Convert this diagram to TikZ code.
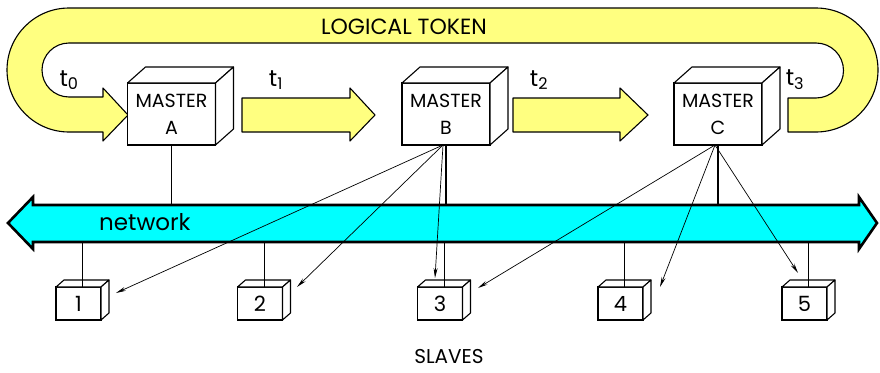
\documentclass[tikz,border=0pt]{standalone}
\usepackage{fontspec}
\setmainfont{Poppins}
\usetikzlibrary{arrows.meta,calc}
\definecolor{tokyel}{HTML}{FFFF80}
\definecolor{netcyan}{HTML}{00FFFF}
\newcommand\drawcube[3]{%
  \draw[cubeface] (#1.north west) -- ++(#2,-#3) -- ([shift={(#2,-#3)}]#1.north east) -- (#1.north east) -- cycle;
  \draw[cubeface] (#1.north east) -- ([shift={(#2,-#3)}]#1.north east) -- ([shift={(#2,-#3)}]#1.south east) -- (#1.south east) -- cycle;}
\tikzset{
  tokenband/.style={draw=black, line width=1.1pt, fill=tokyel, line join=round},
  netband/.style={draw=black, line width=2.6pt, fill=netcyan, line join=miter},
  master/.style={draw=black, fill=white, line width=1.2pt, minimum width=88pt, minimum height=62pt, inner sep=0pt, outer sep=0pt, align=center, font=\fontsize{19}{27}\selectfont},
  slave/.style={draw=black, fill=white, line width=1.1pt, minimum width=45pt, minimum height=33pt, inner sep=0pt, outer sep=0pt, font=\fontsize{21}{22}\selectfont},
  cubeface/.style={draw=black, fill=white, line width=1.1pt, line join=round},
  stem/.style={draw=black, line width=1.1pt},
  thinstem/.style={draw=black, line width=0.8pt},
  msg/.style={draw=black, line width=0.7pt, -{Stealth[length=10pt,width=4pt]}},
  tlabel/.style={font=\fontsize{23}{24}\selectfont, inner sep=0pt},
  biglabel/.style={font=\fontsize{22}{24}\selectfont, inner sep=0pt}
}
\begin{document}
\begin{tikzpicture}[x=1pt,y=-1pt]
\useasboundingbox (0,0) rectangle (880,372);
% logical token loop
\draw[tokenband] (103,132) -- (69,132) arc[start angle=90, end angle=270, radius=62] -- (816,8)
  arc[start angle=-90, end angle=90, radius=62] -- (788,132) -- (788,98) -- (816,98)
  arc[start angle=90, end angle=-90, radius=27.5] -- (69,43)
  arc[start angle=-90, end angle=-270, radius=27] -- (103,97) -- (103,88) -- (128,115) -- (103,141) -- cycle;
\node[biglabel] (lt) at (404,27) {LOGICAL TOKEN};
% token arrows
\draw[tokenband] (242,98) -- (350,98) -- (350,88) -- (375,115) -- (350,141) -- (350,132) -- (242,132) -- cycle;
\draw[tokenband] (513,98) -- (620,98) -- (620,88) -- (648,115) -- (620,141) -- (620,132) -- (513,132) -- cycle;
% network
\draw[netband] (8,223) -- (33,197) -- (33,205) -- (859,205) -- (859,197) -- (877,223) -- (859,249) -- (859,242) -- (33,242) -- (33,249) -- cycle;
\node[font=\fontsize{23}{24}\selectfont, inner sep=0pt, anchor=west] (net) at (99,222) {network};
\coordinate (netT) at (0,205);
\coordinate (netB) at (0,242);
% masters
\node[master] (mA) at (171.5,114) {MASTER\\A};
\node[master] (mB) at (446,114) {MASTER\\B};
\node[master] (mC) at (718,114) {MASTER\\C};
\draw[stem] (mA.south) -- (mA.south |- netT);
\draw[stem] (mB.south) -- (mB.south |- netT);
\draw[stem] (mC.south) -- (mC.south |- netT);
\drawcube{mA}{18}{16}
\drawcube{mB}{18}{16}
\drawcube{mC}{18}{16}
\node[tlabel] (t0) at (69,80) {t\textsubscript{0}};
\node[tlabel] (t1) at (276,80) {t\textsubscript{1}};
\node[tlabel] (t2) at (539,80) {t\textsubscript{2}};
\node[tlabel] (t3) at (795,80) {t\textsubscript{3}};
% slaves
\node[slave] (s1) at (78.5,303.5) {1};
\node[slave] (s2) at (260,303.5) {2};
\node[slave] (s3) at (440,303.5) {3};
\node[slave] (s4) at (620.5,303.5) {4};
\node[slave] (s5) at (804.5,303.5) {5};
\foreach \s in {s1,s2,s3,s4,s5}{
  \drawcube{\s}{8}{7}
  \draw[thinstem] ([xshift=4pt]\s.north) -- ([xshift=4pt]\s.north |- netB);
}
\node[font=\fontsize{20}{22}\selectfont, inner sep=0pt] (sl) at (449,357) {SLAVES};
% messages
\coordinate (e1) at (116,293);
\coordinate (e2) at (297,287);
\coordinate (e3) at (435,278);
\coordinate (e4) at (478,288);
\coordinate (e5) at (660,287);
\coordinate (e6) at (798,273);
\draw[msg] ([xshift=-3pt]mB.south) -- (e1);
\draw[msg] ([xshift=-3pt]mB.south) -- (e2);
\draw[msg] ([xshift=-3pt]mB.south) -- (e3);
\draw[msg] ([xshift=-3pt]mC.south) -- (e4);
\draw[msg] ([xshift=-3pt]mC.south) -- (e5);
\draw[msg] ([xshift=-3pt]mC.south) -- (e6);
\end{tikzpicture}
\end{document}
